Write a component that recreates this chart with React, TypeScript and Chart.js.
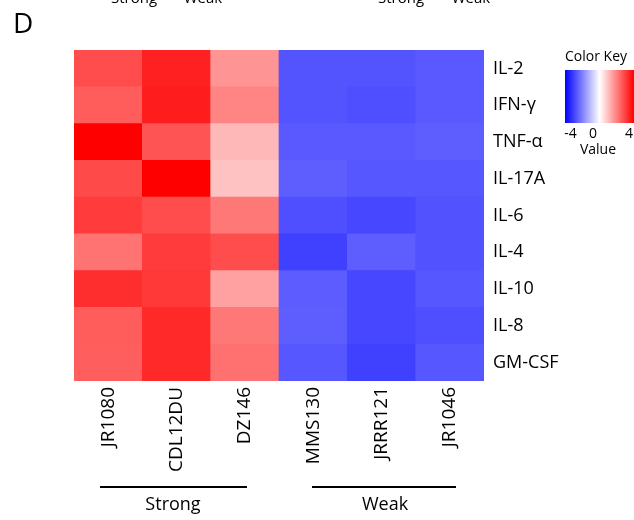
import React, { useEffect, useRef } from "react";
import { Chart, registerables } from "chart.js";

Chart.register(...registerables);

const columns = ["JR1080", "CDL12DU", "DZ146", "MMS130", "JRRR121", "JR1046"];
const rowLabels = ["IL-2", "IFN-γ", "TNF-α", "IL-17A", "IL-6", "IL-4", "IL-10", "IL-8", "GM-CSF"];

const il2 = [3.5, 4.35, 2.1, -3.35, -3.35, -3.25];
const ifng = [3.2, 4.45, 2.4, -3.35, -3.45, -3.25];
const tnfa = [5.0, 3.35, 1.4, -3.25, -3.25, -3.15];
const il17a = [3.55, 5.0, 1.2, -3.15, -3.3, -3.3];
const il6 = [3.85, 3.5, 2.65, -3.45, -3.6, -3.4];
const il4 = [2.75, 3.85, 3.5, -3.75, -3.15, -3.4];
const il10 = [4.1, 3.9, 1.85, -3.2, -3.6, -3.3];
const il8 = [3.2, 4.2, 2.65, -3.15, -3.6, -3.45];
const gmcsf = [3.15, 4.2, 2.8, -3.3, -3.75, -3.3];

const rowValues = [il2, ifng, tnfa, il17a, il6, il4, il10, il8, gmcsf];

const groupLabels = ["Strong", "Weak"];
const keyTickLabels = ["-4", "0", "4"];
const keyLimit = 5;

function colorFor(v: number): string {
  const t = Math.min(1, Math.abs(v) / keyLimit);
  const c = Math.round(255 * (1 - t));
  return v >= 0 ? `rgb(255,${c},${c})` : `rgb(${c},${c},255)`;
}

const FONT = "'Open Sans', 'DejaVu Sans', sans-serif";

const decorPlugin = {
  id: "decor",
  afterDraw(chart: any) {
    const ctx = chart.ctx as CanvasRenderingContext2D;
    ctx.save();
    ctx.fillStyle = "#000";
    ctx.strokeStyle = "#000";

    // panel letter
    ctx.font = `28px ${FONT}`;
    ctx.textAlign = "left";
    ctx.textBaseline = "alphabetic";
    ctx.fillText("D", 13, 33);

    // cut-off labels at the very top
    ctx.font = `15px ${FONT}`;
    ctx.textAlign = "center";
    ctx.fillText(groupLabels[0], 134, 3);
    ctx.fillText(groupLabels[1], 203, 3);
    ctx.fillText(groupLabels[0], 401, 3);
    ctx.fillText(groupLabels[1], 471, 3);

    // group brackets
    ctx.lineWidth = 2;
    ctx.beginPath();
    ctx.moveTo(100, 487);
    ctx.lineTo(247, 487);
    ctx.moveTo(312, 487);
    ctx.lineTo(456, 487);
    ctx.stroke();
    ctx.font = `18px ${FONT}`;
    ctx.fillText(groupLabels[0], 173, 510);
    ctx.fillText(groupLabels[1], 385, 510);

    // color key
    const kx0 = 565, kx1 = 634, ky0 = 70, ky1 = 123;
    const grad = ctx.createLinearGradient(kx0, 0, kx1, 0);
    grad.addColorStop(0, "rgb(0,0,255)");
    grad.addColorStop(0.5, "rgb(255,255,255)");
    grad.addColorStop(1, "rgb(255,0,0)");
    ctx.fillStyle = grad;
    ctx.fillRect(kx0, ky0, kx1 - kx0, ky1 - ky0);
    ctx.fillStyle = "#000";
    ctx.font = `14px ${FONT}`;
    ctx.textAlign = "left";
    ctx.fillText("Color Key", 565, 61);
    ctx.font = `14px ${FONT}`;
    ctx.textAlign = "center";
    const tickX = [570.5, 593, 629];
    keyTickLabels.forEach((t, i) => ctx.fillText(t, tickX[i], 138));
    ctx.fillText("Value", 598, 154);
    ctx.restore();
  },
};

export default function App() {
  const ref = useRef<HTMLCanvasElement | null>(null);

  useEffect(() => {
    if (!ref.current) return;
    const n = rowLabels.length;
    const datasets = [] as any[];
    for (let i = 0; i < n; i++) {
      const r = n - 1 - i; // bottom-up
      datasets.push({
        label: rowLabels[r],
        data: columns.map(() => 1),
        backgroundColor: rowValues[r].map(colorFor),
        borderWidth: 0,
        barPercentage: 1,
        categoryPercentage: 1,
        stack: "s",
      });
    }
    const chart = new Chart(ref.current, {
      type: "bar",
      data: { labels: columns, datasets },
      options: {
        animation: false,
        responsive: false,
        devicePixelRatio: 1,
        layout: { padding: { left: 74, top: 50, right: 0, bottom: 0 } },
        plugins: { legend: { display: false }, tooltip: { enabled: false } },
        scales: {
          x: {
            stacked: true,
            grid: { display: false, drawTicks: false },
            border: { display: false },
            ticks: {
              color: "#000",
              font: { family: FONT, size: 19 },
              maxRotation: 90,
              minRotation: 90,
              padding: 6,
              autoSkip: false,
            },
            afterFit: (s: any) => {
              s.height = 139;
            },
          },
          y: {
            stacked: true,
            position: "right",
            min: 0,
            max: n,
            grid: { display: false, drawTicks: false },
            border: { display: false },
            ticks: {
              color: "#000",
              font: { family: FONT, size: 18 },
              padding: 9,
              autoSkip: false,
              callback: (v: any) => {
                const idx = n - 1 - Math.floor(Number(v));
                return rowLabels[idx] ?? "";
              },
            },
            afterBuildTicks: (s: any) => {
              s.ticks = rowLabels.map((_, i) => ({ value: i + 0.5 }));
            },
            afterFit: (s: any) => {
              s.width = 150;
            },
          },
        },
      },
      plugins: [decorPlugin],
    });
    return () => chart.destroy();
  }, []);

  return (
    <div style={{ position: "fixed", left: 0, top: 0, width: 634, height: 520, background: "#fff" }}>
      <canvas ref={ref} width={634} height={520} style={{ display: "block" }} />
    </div>
  );
}
